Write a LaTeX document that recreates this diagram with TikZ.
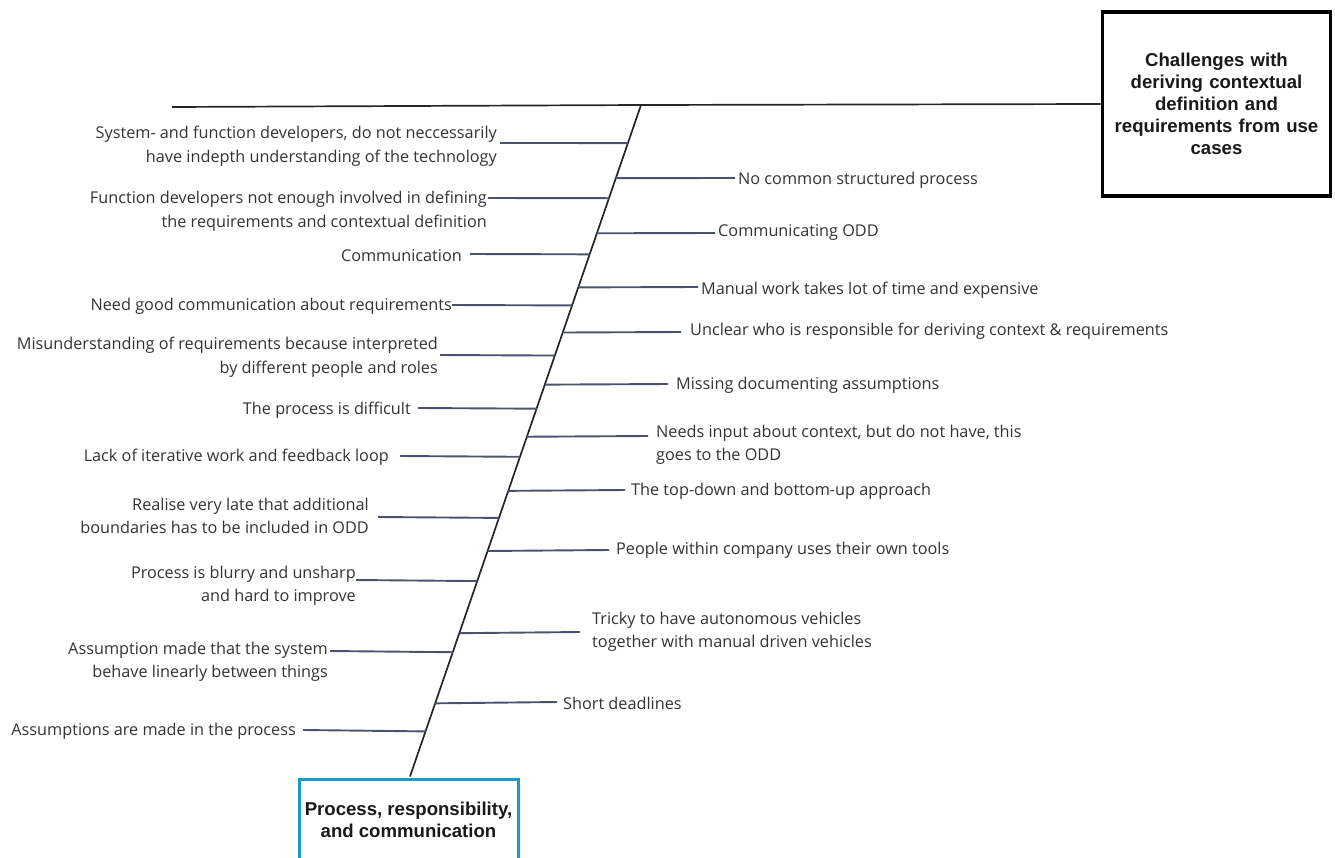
\documentclass[tikz,border=0pt]{standalone}
\usepackage{fontspec}
\setmainfont{Open Sans}
\newfontfamily\boxfont{Liberation Sans}
\usetikzlibrary{calc}
\definecolor{bonecol}{HTML}{4B5270}
\definecolor{txtcol}{HTML}{333333}
\definecolor{teal}{HTML}{1A9CC4}
\begin{document}
\begin{tikzpicture}[x=1pt,y=-1pt,
  bone/.style={draw=bonecol,line width=1.9pt},
  spine/.style={draw=black!85,line width=1.7pt},
  lbl/.style={inner sep=0pt,text=txtcol,font=\fontsize{16.25}{23.5}\selectfont},
  lft/.style={lbl,anchor=east,align=right},
  rgt/.style={lbl,anchor=west,align=left},
  headbox/.style={draw,line width=3.6pt,inner sep=4pt,align=center,
    font=\boxfont\bfseries\fontsize{18.6}{22}\selectfont,text=black!90}]
\useasboundingbox (0,0) rectangle (1335,857);

% head and tail boxes
\node[headbox,minimum width=228pt,minimum height=184pt,text width=220pt] (head) at (1216.5,104)
  {Challenges with\\deriving contextual\\definition and\\requirements from use\\cases};
\node[headbox,draw=teal,line width=3pt,minimum width=219pt,minimum height=82pt] (cat) at (408.5,820)
  {Process, responsibility,\\and communication};

% main line and spine
\coordinate (tail) at (172,107);
\coordinate (S0) at (641,105);
\coordinate (S1) at (410,776.5);
\draw[spine] (tail) -- (S0) -- (head.west);
\draw[spine] (S0) -- (S1);

% spine attachment points: parameter (y-105)/670
\foreach \n/\y in {L1/143,L2/198,L3/254,L4/305,L5/355,L6/408,L7/456,L8/517,L9/580,L10/651,L11/730,
                   R1/178,R2/233,R3/287,R4/332,R5/384,R6/436,R7/490,R8/550,R9/632,R10/702}
  \coordinate (s\n) at ($(S0)!{(\y-105)/670}!(S1)$);

% left causes
\node[lft] (L1) at (497,146) {System- and function developers, do not neccessarily\\have indepth understanding of the technology};
\node[lft] (L2) at (487,211) {Function developers not enough involved in defining\\the requirements and contextual definition};
\node[lft] (L3) at (462,256) {Communication};
\node[lft] (L4) at (452,306) {Need good communication about requirements};
\node[lft] (L5) at (438,357) {Misunderstanding of requirements because interpreted\\by different people and roles};
\node[lft] (L6) at (411,410) {The process is difficult};
\node[lft] (L7) at (389,457) {Lack of iterative work and feedback loop};
\node[lft] (L8) at (369,516) {Realise very late that additional\\boundaries has to be included in ODD};
\node[lft] (L9) at (356,586) {Process is blurry and unsharp\\and hard to improve};
\node[lft] (L10) at (328,662) {Assumption made that the system\\behave linearly between things};
\node[lft] (L11) at (296,731) {Assumptions are made in the process};

% right causes
\node[rgt] (R1) at (738,180) {No common structured process};
\node[rgt] (R2) at (718,232) {Communicating ODD};
\node[rgt] (R3) at (701,290) {Manual work takes lot of time and expensive};
\node[rgt] (R4) at (690,331) {Unclear who is responsible for deriving context \& requirements};
\node[rgt] (R5) at (676,385) {Missing documenting assumptions};
\node[rgt] (R6) at (656,445) {Needs input about context, but do not have, this\\goes to the ODD};
\node[rgt] (R7) at (631,491) {The top-down and bottom-up approach};
\node[rgt] (R8) at (616,550) {People within company uses their own tools};
\node[rgt] (R9) at (592,632) {Tricky to have autonomous vehicles\\together with manual driven vehicles};
\node[rgt] (R10) at (563,703) {Short deadlines};

% bone ends near the labels
\foreach \n/\x/\y in {L1/500/143,L2/488/198,L3/470/254,L4/452/305,L5/440/355,L6/418/408,
                      L7/400/456,L8/378/517,L9/356/580,L10/330/651,L11/303/730,
                      R1/735/178,R2/715/233,R3/698/287,R4/681/332,R5/668/384,R6/648/436,
                      R7/625/490,R8/609/550,R9/580/632,R10/557/702}
  \coordinate (e\n) at (\x,\y);

% bones
\foreach \n in {L1,L2,L3,L4,L5,L6,L7,L8,L9,L10,L11,R1,R2,R3,R4,R5,R6,R7,R8,R9,R10}
  \draw[bone] (e\n) -- (s\n);
\end{tikzpicture}
\end{document}
